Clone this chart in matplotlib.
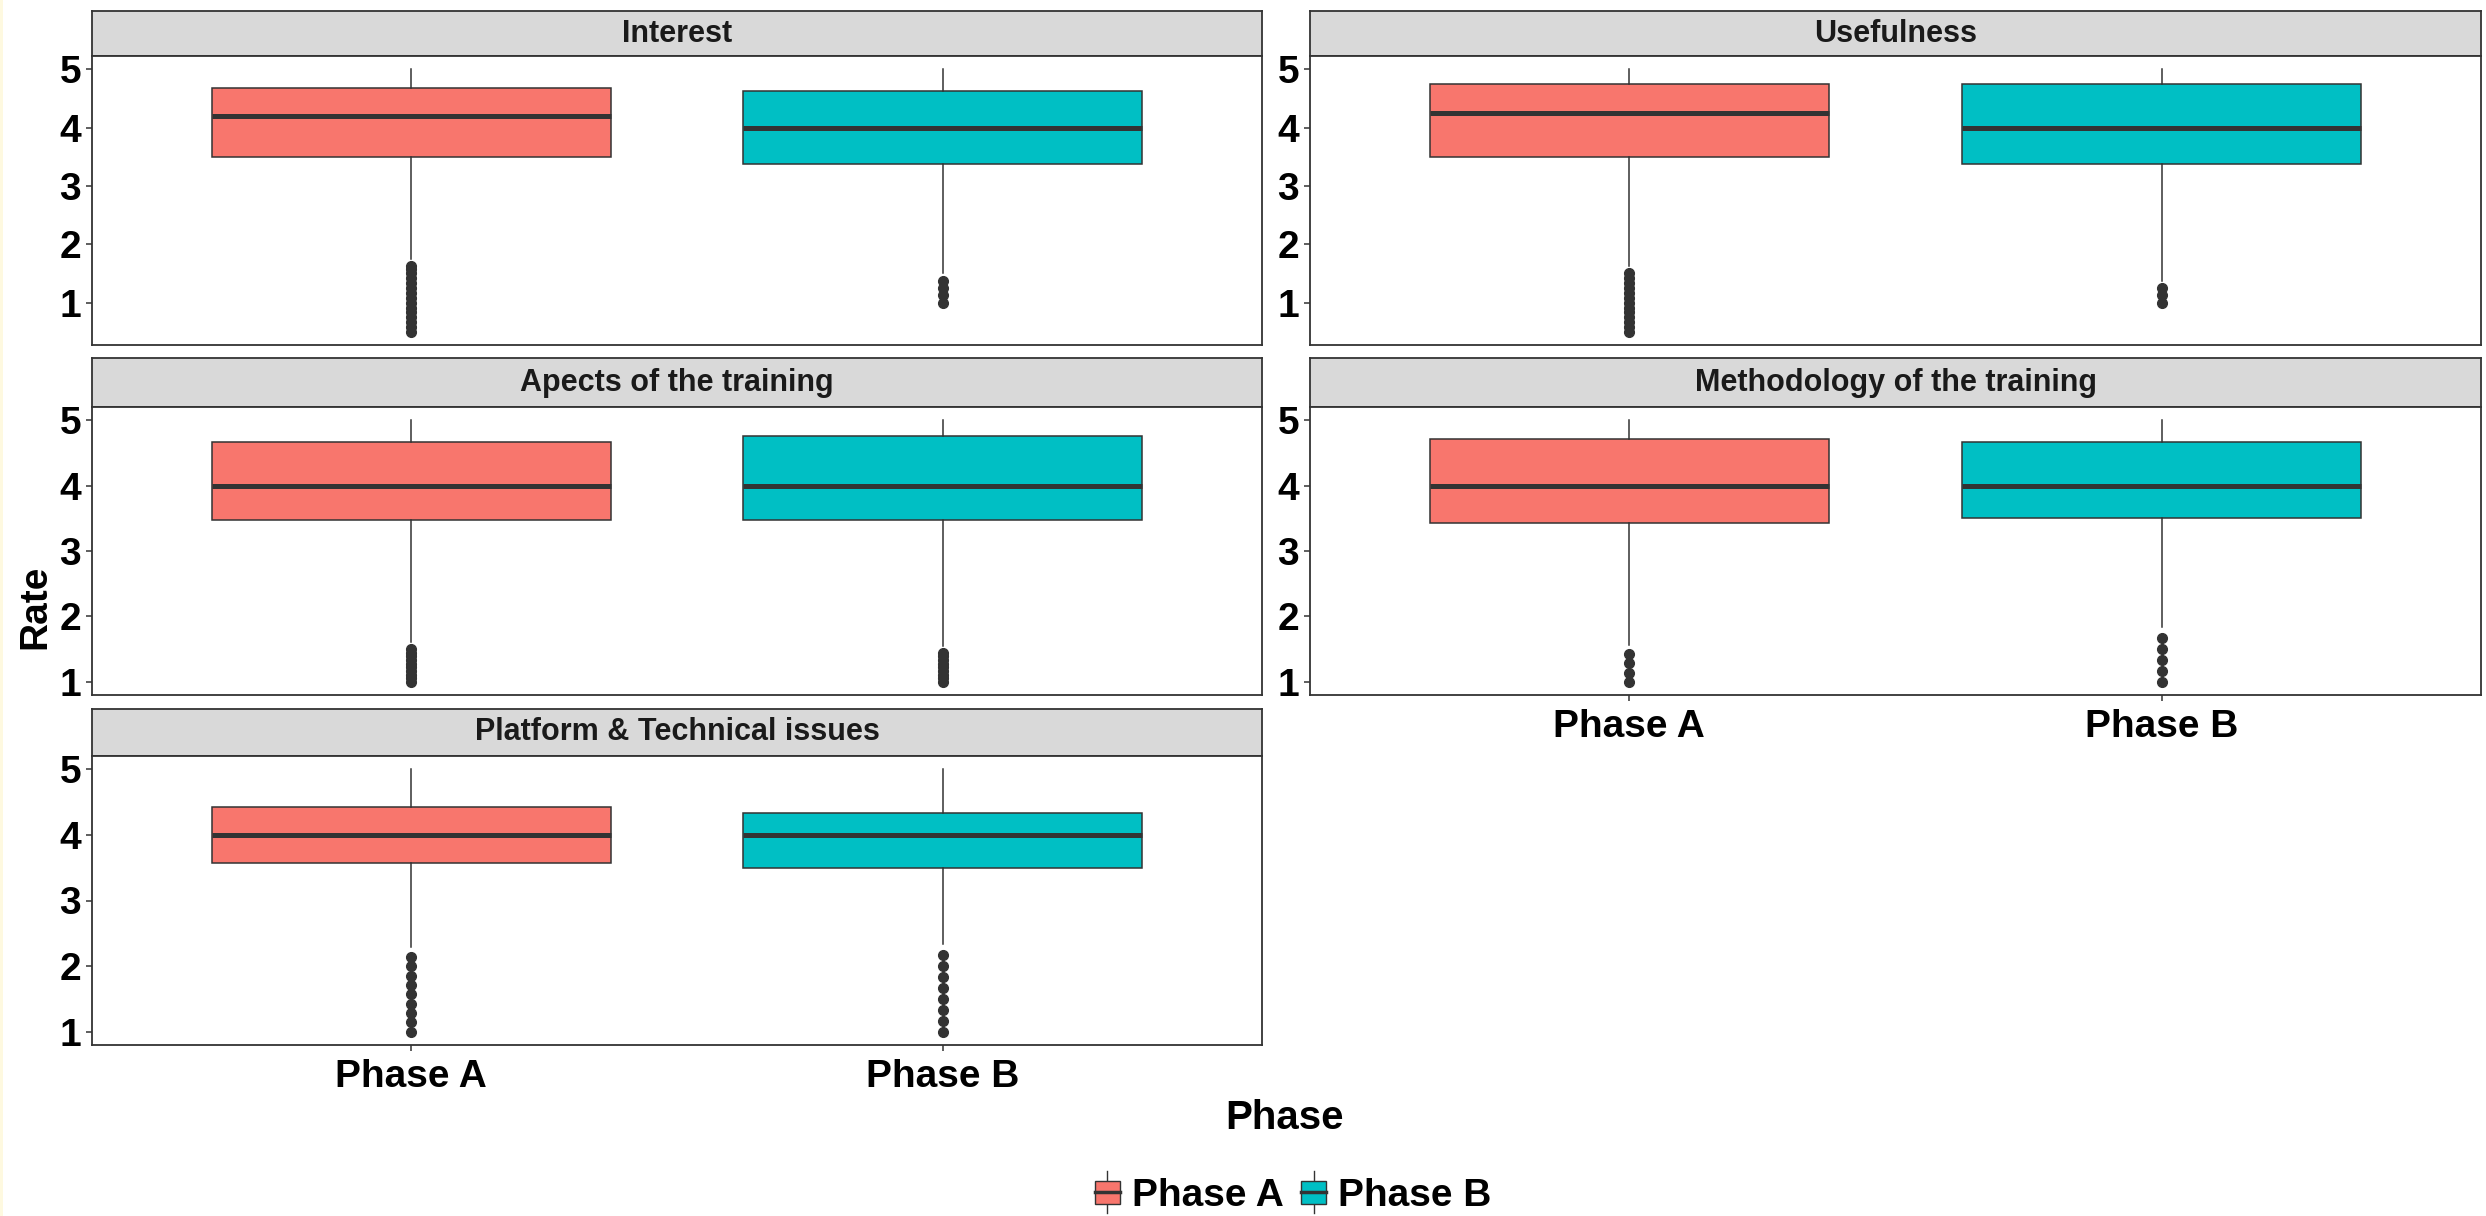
import matplotlib
matplotlib.use("Agg")
import matplotlib.pyplot as plt
from matplotlib.patches import Patch, Rectangle
from matplotlib.lines import Line2D
from matplotlib.legend_handler import HandlerBase

plt.rcParams["font.family"] = ["Liberation Sans", "DejaVu Sans"]
plt.rcParams["font.weight"] = "bold"

# Data (one entry per facet).
facets = ["Interest", "Usefulness", "Apects of the training",
          "Methodology of the training", "Platform & Technical issues"]
phases = ["Phase A", "Phase B"]
phase_colors = ["#F8766D", "#00BFC4"]

# Phase A box statistics
q1_a = [3.5, 3.5, 3.47, 3.43, 3.571]
med_a = [4.2, 4.25, 4.0, 4.0, 4.0]
q3_a = [4.67, 4.75, 4.67, 4.71, 4.429]
whislo_a = [1.75, 1.625, 1.61, 1.571, 2.286]
whishi_a = [5.0, 5.0, 5.0, 5.0, 5.0]
fliers_a = [
    [0.5, 0.583, 0.667, 0.75, 0.833, 0.917, 1.0, 1.083, 1.167, 1.25, 1.333,
     1.417, 1.5, 1.583, 1.625],
    [0.5, 0.583, 0.667, 0.75, 0.833, 0.917, 1.0, 1.083, 1.167, 1.25, 1.333,
     1.417, 1.5],
    [1.0, 1.056, 1.111, 1.167, 1.222, 1.278, 1.333, 1.389, 1.444, 1.5],
    [1.0, 1.143, 1.286, 1.429],
    [1.0, 1.143, 1.286, 1.429, 1.571, 1.714, 1.857, 2.0, 2.143],
]

# Phase B box statistics
q1_b = [3.375, 3.375, 3.47, 3.5, 3.5]
med_b = [4.0, 4.0, 4.0, 4.0, 4.0]
q3_b = [4.625, 4.75, 4.75, 4.67, 4.333]
whislo_b = [1.5, 1.375, 1.556, 1.833, 2.333]
whishi_b = [5.0, 5.0, 5.0, 5.0, 5.0]
fliers_b = [
    [1.0, 1.125, 1.25, 1.375],
    [1.0, 1.125, 1.25],
    [1.0, 1.056, 1.111, 1.167, 1.222, 1.278, 1.333, 1.389, 1.444],
    [1.0, 1.167, 1.333, 1.5, 1.667],
    [1.0, 1.167, 1.333, 1.5, 1.667, 1.833, 2.0, 2.167],
]

y_ticks = [1, 2, 3, 4, 5]

# Layout in pixels of the 2486x1216 output.
W, H = 2486, 1216
col_x = [(92, 1262), (1310, 2481)]
row_y = [(11, 56, 345), (358, 407, 695), (709, 756, 1045)]  # strip top, panel top, panel bottom
GREY20 = "#333333"


def fig_rect(x0, y0, x1, y1):
    return [x0 / W, 1 - y1 / H, (x1 - x0) / W, (y1 - y0) / H]


class BoxKey(HandlerBase):
    """ Legend key drawn as a small boxplot. """
    def create_artists(self, legend, orig_handle, xdescent, ydescent,
                       width, height, fontsize, trans):
        x0, y0 = -xdescent, -ydescent
        cx = x0 + width / 2
        whisker = Line2D([cx, cx], [y0 - 0.15 * height, y0 + 1.15 * height],
                         color=GREY20, lw=1.0, transform=trans)
        box = Rectangle((x0, y0 + 0.15 * height), width, 0.7 * height,
                        facecolor=orig_handle.get_facecolor(),
                        edgecolor=GREY20, lw=1.0, transform=trans)
        median = Line2D([x0, x0 + width], [y0 + height / 2] * 2,
                        color=GREY20, lw=2.5, transform=trans)
        return [whisker, box, median]


fig = plt.figure(figsize=(W / 100, H / 100), dpi=100)
fig.patches.append(Rectangle((0, 0), 3 / W, 1, transform=fig.transFigure,
                             facecolor="#FEF9E0", edgecolor="none"))

for i, name in enumerate(facets):
    row, col = divmod(i, 2)
    x0, x1 = col_x[col]
    s_top, p_top, p_bot = row_y[row]

    # Strip
    sax = fig.add_axes(fig_rect(x0, s_top, x1, p_top))
    sax.set_facecolor("#D9D9D9")
    sax.set_xticks([])
    sax.set_yticks([])
    for sp in sax.spines.values():
        sp.set_color(GREY20)
        sp.set_linewidth(1.3)
    sax.text(0.5, 0.5, name, ha="center", va="center", fontsize=22,
             fontweight="bold", color="#1A1A1A", transform=sax.transAxes)

    # Panel
    ax = fig.add_axes(fig_rect(x0, p_top, x1, p_bot))
    stats = [
        dict(med=med_a[i], q1=q1_a[i], q3=q3_a[i], whislo=whislo_a[i],
             whishi=whishi_a[i], fliers=fliers_a[i]),
        dict(med=med_b[i], q1=q1_b[i], q3=q3_b[i], whislo=whislo_b[i],
             whishi=whishi_b[i], fliers=fliers_b[i]),
    ]
    parts = ax.bxp(stats, positions=[1, 2], widths=0.75, patch_artist=True,
                   showcaps=False,
                   boxprops=dict(edgecolor=GREY20, linewidth=1.1),
                   medianprops=dict(color=GREY20, linewidth=3.6, solid_capstyle="butt"),
                   whiskerprops=dict(color=GREY20, linewidth=1.1),
                   flierprops=dict(marker="o", markerfacecolor=GREY20,
                                   markeredgecolor=GREY20, markersize=7))
    for patch, c in zip(parts["boxes"], phase_colors):
        patch.set_facecolor(c)

    # free y scale with 5% expansion, like the source chart
    lo = min(min(whislo_a[i], whislo_b[i]), min(fliers_a[i] + fliers_b[i]))
    hi = max(whishi_a[i], whishi_b[i])
    pad = 0.05 * (hi - lo)
    ax.set_ylim(lo - pad, hi + pad)
    ax.set_xlim(0.4, 2.6)
    ax.set_yticks(y_ticks)
    ax.set_yticklabels([str(t) for t in y_ticks], fontsize=28,
                       fontweight="bold", color="black")
    ax.tick_params(axis="y", length=4.3, width=1.1, color=GREY20, pad=3.5)
    if i >= 3:
        ax.set_xticks([1, 2])
        ax.set_xticklabels(phases, fontsize=28, fontweight="bold", color="black")
        ax.tick_params(axis="x", length=4.3, width=1.1, color=GREY20, pad=6)
    else:
        ax.set_xticks([])
    for sp in ax.spines.values():
        sp.set_color(GREY20)
        sp.set_linewidth(1.3)

fig.text(35 / W, 1 - 607 / H, "Rate", rotation=90, ha="center", va="center",
         fontsize=28, fontweight="bold")
fig.text(1284 / W, 1 - 1118 / H, "Phase", ha="center", va="center",
         fontsize=29, fontweight="bold")

handles = [Patch(facecolor=c, edgecolor=GREY20) for c in phase_colors]
fig.legend(handles, phases, handler_map={Patch: BoxKey()}, loc="center",
           bbox_to_anchor=(1293 / W, 1 - 1195 / H), ncol=2, frameon=False,
           fontsize=28, handlelength=0.65, handleheight=0.9,
           handletextpad=0.3, columnspacing=0.45, borderaxespad=0)

fig.savefig("out.png", dpi=100, facecolor="white")
